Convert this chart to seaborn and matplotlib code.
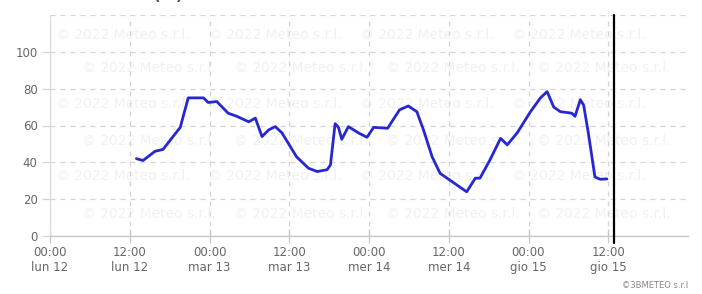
import numpy as np
import pandas as pd
import matplotlib
matplotlib.use("Agg")
import matplotlib.pyplot as plt
import seaborn as sns

# Hours since 00:00 lun 12
hours = [13.0, 14.0, 15.8, 17.0, 18.3, 19.6, 20.8, 23.1, 23.8, 25.1, 26.8, 28.1,
         29.9, 30.9, 31.9, 32.9, 33.9, 34.9, 37.1, 38.9, 40.2, 41.7, 42.2, 42.9,
         43.4, 43.9, 44.9, 46.4, 47.7, 48.7, 50.8, 52.6, 53.9, 55.2, 56.2, 57.5,
         58.7, 60.5, 62.7, 64.0, 64.7, 66.2, 67.8, 68.8, 70.3, 72.3, 73.8, 74.8,
         75.8, 76.8, 78.5, 79.0, 79.8, 80.3, 81.0, 82.0, 82.8, 83.8]
humidity = [42, 41, 46, 47, 53, 59, 75, 75, 72.5, 73, 66.7, 65,
            62, 64, 54, 57.6, 59.4, 56, 43, 36.8, 35, 36, 38.6, 61,
            59, 52.5, 59.4, 56, 53.6, 59, 58.5, 68.5, 70.6, 67.5, 57.6, 43,
            34, 29.5, 24, 31.4, 31.4, 41.3, 53, 49.5, 56, 67.5, 75, 78.4,
            70, 67.5, 66.7, 65, 74, 71, 56, 32, 30.8, 31]

tick_hours = [0, 12, 24, 36, 48, 60, 72, 84]
tick_labels = ["00:00\nlun 12", "12:00\nlun 12", "00:00\nmar 13", "12:00\nmar 13",
               "00:00\nmer 14", "12:00\nmer 14", "00:00\ngio 15", "12:00\ngio 15"]
y_ticks = [0, 20, 40, 60, 80, 100]
now_hour = 84.9
title = "Umidità relativa (%)"
watermark = "© 2022 Meteo s.r.l."

df = pd.DataFrame({"ora": hours, "umidita": humidity})

sns.set_theme(style="white")
plt.rcParams['font.family'] = ['DejaVu Sans']

fig = plt.figure(figsize=(7.02, 2.94), dpi=100)
ax = fig.add_axes([50/702, (294-236)/294, (688-50)/702, (236-15)/294])

# faint watermark rows, kept fully inside the plot area
for r, yy in enumerate([0.91, 0.76, 0.60, 0.43, 0.27, 0.10]):
    start = 0.01 if r % 2 == 0 else 0.05
    for k in range(4):
        ax.text(start + k * 0.238, yy, watermark, fontsize=10, color="#f1f1f1",
                ha="left", va="center", zorder=0.5, transform=ax.transAxes)

sns.lineplot(data=df, x="ora", y="umidita", ax=ax, color="#2727d2", lw=2, zorder=3)

ax.set_xlim(0, 96)
ax.set_ylim(0, 120)
ax.set_xticks(tick_hours)
ax.set_xticklabels(tick_labels)
ax.set_yticks(y_ticks)
ax.set_xlabel("")
ax.set_ylabel("")

ax.grid(True, axis="y", linestyle=(0, (4, 4)), color="#d4d4d4", lw=0.9, zorder=1)
ax.grid(True, axis="x", linestyle=(0, (4, 4)), color="#d4d4d4", lw=0.9, zorder=1)
ax.axhline(120, linestyle=(0, (4, 4)), color="#d4d4d4", lw=0.9)
ax.set_axisbelow(True)

for s in ["top", "right"]:
    ax.spines[s].set_visible(False)
ax.spines["left"].set_color("#dcdcdc")
ax.spines["bottom"].set_color("#c8c8c8")
ax.spines["left"].set_linewidth(0.9)
ax.spines["bottom"].set_linewidth(1.0)

ax.tick_params(axis="x", direction="inout", length=10, width=0.9, color="#c8c8c8",
               labelsize=8.5, labelcolor="#666666", pad=2, bottom=True)
ax.tick_params(axis="y", direction="out", length=6, width=0.9, color="#d4d4d4",
               labelsize=8.5, labelcolor="#666666", pad=3, left=True)

ax.axvline(now_hour, color="black", lw=1.6, ymin=-0.03, ymax=1, clip_on=False, zorder=4)

fig.text(10/702, 1.0 + 4/294, title, fontsize=11, fontweight="bold", color="#555555",
         ha="left", va="center")
fig.text(688/702, 8/294, "©3BMETEO s.r.l", fontsize=6, color="#888888",
         ha="right", va="center")

fig.savefig("out.png", dpi=100)
